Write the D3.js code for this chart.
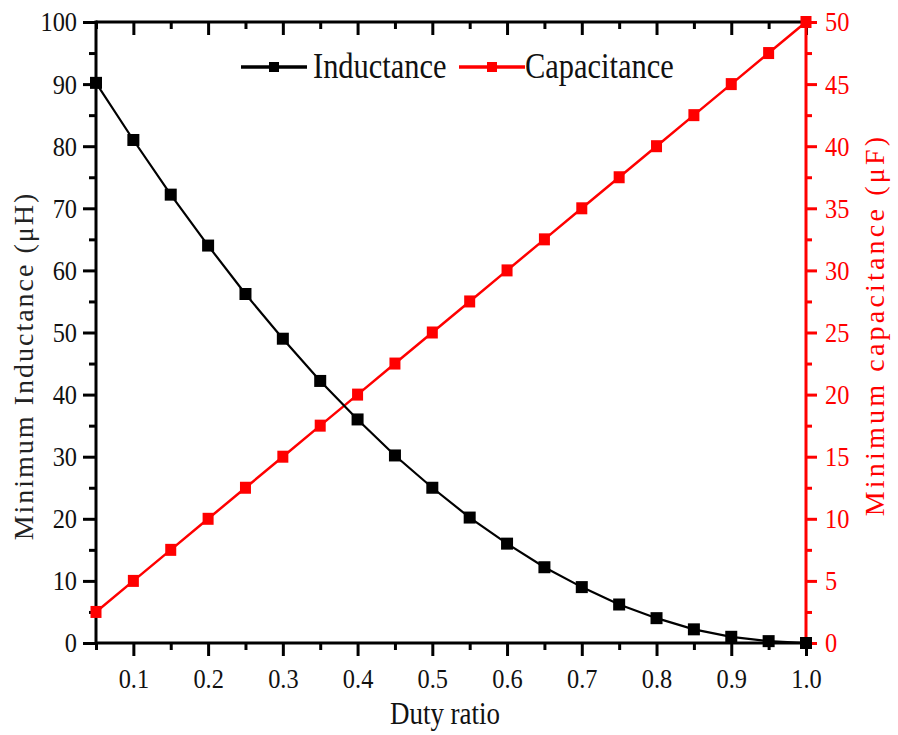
<!DOCTYPE html>
<html>
<head>
<meta charset="utf-8">
<script src="https://cdn.jsdelivr.net/npm/d3@7"></script>
<style>
  body { margin: 0; background: #fff; }
  svg text { font-family: "Liberation Serif", "Times New Roman", serif; }
</style>
</head>
<body>
<div class="chart"></div>
<script>
// data
var duty = [0.05, 0.1, 0.15, 0.2, 0.25, 0.3, 0.35, 0.4, 0.45, 0.5,
            0.55, 0.6, 0.65, 0.7, 0.75, 0.8, 0.85, 0.9, 0.95, 1.0];
var inductance = [90.2, 81, 72.2, 64, 56.2, 49, 42.2, 36, 30.2, 25,
                  20.2, 16, 12.2, 9, 6.2, 4, 2.2, 1, 0.3, 0];
var capacitance = [2.5, 5, 7.5, 10, 12.5, 15, 17.5, 20, 22.5, 25,
                   27.5, 30, 32.5, 35, 37.5, 40, 42.5, 45, 47.5, 50];
var xTicks = [0.1, 0.2, 0.3, 0.4, 0.5, 0.6, 0.7, 0.8, 0.9, 1.0];
var xMinor = [0.05, 0.15, 0.25, 0.35, 0.45, 0.55, 0.65, 0.75, 0.85, 0.95];
var yLeftTicks = [0, 10, 20, 30, 40, 50, 60, 70, 80, 90, 100];
var yLeftMinor = [5, 15, 25, 35, 45, 55, 65, 75, 85, 95];
var yRightTicks = [0, 5, 10, 15, 20, 25, 30, 35, 40, 45, 50];
var yRightMinor = [2.5, 7.5, 12.5, 17.5, 22.5, 27.5, 32.5, 37.5, 42.5, 47.5];
var seriesNames = ["Inductance", "Capacitance"];

var W = 898, H = 735;
var pLeft = 96, pRight = 806, pTop = 22, pBottom = 643;
var sx = 0.87; // text in the picture is a bit narrow
var RED = "#ff0000";

var svg = d3.select(".chart").append("svg")
            .attr("width", W).attr("height", H);

var x = d3.scaleLinear().domain([0.05, 1.0]).range([pLeft, pRight]);
var yL = d3.scaleLinear().domain([0, 100]).range([pBottom, pTop]);
var yR = d3.scaleLinear().domain([0, 50]).range([pBottom, pTop]);

function squish(g) {
  g.selectAll("text").each(function() {
    var t = d3.select(this);
    var x0 = +t.attr("x") || 0;
    t.attr("x", x0 / sx).attr("transform", "scale(" + sx + ",1)");
  });
}

function styleAxis(g, color, fontSize) {
  g.select(".domain").remove();
  g.selectAll("line").attr("stroke", color).attr("stroke-width", 3);
  g.selectAll("text").attr("fill", color === RED ? RED : "#111")
    .style("font-size", fontSize + "px");
  squish(g);
}

// bottom axis
svg.append("g").attr("transform", `translate(0,${pBottom})`)
  .call(d3.axisBottom(x).tickValues(xTicks).tickSize(13).tickPadding(12).tickFormat(d3.format(".1f")))
  .call(g => styleAxis(g, "#000", 28));
svg.append("g").attr("transform", `translate(0,${pBottom})`)
  .call(d3.axisBottom(x).tickValues(xMinor).tickSize(7).tickFormat(""))
  .call(g => styleAxis(g, "#000", 28));

// top axis (ticks inward)
svg.append("g").attr("transform", `translate(0,${pTop})`)
  .call(d3.axisBottom(x).tickValues(xTicks).tickSize(13).tickFormat(""))
  .call(g => styleAxis(g, "#000", 28));
svg.append("g").attr("transform", `translate(0,${pTop})`)
  .call(d3.axisBottom(x).tickValues(xMinor).tickSize(7).tickFormat(""))
  .call(g => styleAxis(g, "#000", 28));

// left axis
svg.append("g").attr("transform", `translate(${pLeft},0)`)
  .call(d3.axisLeft(yL).tickValues(yLeftTicks).tickSize(13).tickPadding(6))
  .call(g => styleAxis(g, "#000", 28));
svg.append("g").attr("transform", `translate(${pLeft},0)`)
  .call(d3.axisLeft(yL).tickValues(yLeftMinor).tickSize(7).tickFormat(""))
  .call(g => styleAxis(g, "#000", 28));

// right axis (red)
svg.append("g").attr("transform", `translate(${pRight},0)`)
  .call(d3.axisRight(yR).tickValues(yRightTicks).tickSize(11).tickPadding(8))
  .call(g => styleAxis(g, RED, 28));
svg.append("g").attr("transform", `translate(${pRight},0)`)
  .call(d3.axisRight(yR).tickValues(yRightMinor).tickSize(6).tickFormat(""))
  .call(g => styleAxis(g, RED, 28));

// frame lines
svg.append("line").attr("x1", pLeft).attr("x2", pRight).attr("y1", pTop).attr("y2", pTop)
  .attr("stroke", "#000").attr("stroke-width", 3);
svg.append("line").attr("x1", pLeft).attr("x2", pRight).attr("y1", pBottom).attr("y2", pBottom)
  .attr("stroke", "#000").attr("stroke-width", 3);
svg.append("line").attr("x1", pLeft).attr("x2", pLeft).attr("y1", pTop - 1.5).attr("y2", pBottom + 1.5)
  .attr("stroke", "#000").attr("stroke-width", 3);
svg.append("line").attr("x1", pRight).attr("x2", pRight).attr("y1", pTop - 1.5).attr("y2", pBottom + 1.5)
  .attr("stroke", RED).attr("stroke-width", 3);

// lines
var lineL = d3.line().x((d, i) => x(duty[i])).y(d => yL(d));
var lineR = d3.line().x((d, i) => x(duty[i])).y(d => yR(d));

svg.append("path").datum(capacitance)
  .attr("fill", "none").attr("stroke", RED).attr("stroke-width", 2.5)
  .attr("d", lineR);
svg.selectAll(".cap").data(capacitance).enter().append("rect")
  .attr("class", "cap")
  .attr("x", (d, i) => x(duty[i]) - 5.5).attr("y", d => yR(d) - 6)
  .attr("width", 11).attr("height", 12).attr("fill", RED);

svg.append("path").datum(inductance)
  .attr("fill", "none").attr("stroke", "#000").attr("stroke-width", 2.2)
  .attr("d", lineL);
svg.selectAll(".ind").data(inductance).enter().append("rect")
  .attr("class", "ind")
  .attr("x", (d, i) => x(duty[i]) - 6).attr("y", d => yL(d) - 6)
  .attr("width", 12).attr("height", 12).attr("fill", "#000");

// legend
var legendItems = [
  { name: seriesNames[0], color: "#000", x0: 241, x1: 307, tx: 313 },
  { name: seriesNames[1], color: RED, x0: 459, x1: 525, tx: 525 }
];
var lg = svg.selectAll(".legend").data(legendItems).enter().append("g").attr("class", "legend");
lg.append("line")
  .attr("x1", d => d.x0).attr("x2", d => d.x1).attr("y1", 67).attr("y2", 67)
  .attr("stroke", d => d.color).attr("stroke-width", 3.5);
lg.append("rect")
  .attr("x", d => (d.x0 + d.x1) / 2 - 5).attr("y", 62)
  .attr("width", 10).attr("height", 10).attr("fill", d => d.color);
lg.append("text")
  .attr("transform", d => `translate(${d.tx},78) scale(${sx},1)`)
  .style("font-size", "35px").attr("fill", "#111")
  .text(d => d.name);

// axis titles
svg.append("text")
  .attr("transform", `translate(33,366) rotate(-90)`)
  .attr("text-anchor", "middle")
  .style("font-size", "28px").style("letter-spacing", "2px")
  .attr("fill", "#222")
  .text("Minimum Inductance (\u03bcH)");

svg.append("text")
  .attr("transform", `translate(884,325) rotate(-90)`)
  .attr("text-anchor", "middle")
  .style("font-size", "28px").style("letter-spacing", "3.2px")
  .attr("fill", RED)
  .text("Minimum capacitance (\u03bcF)");

svg.append("text")
  .attr("transform", `translate(445,724) scale(${sx},1)`)
  .attr("text-anchor", "middle")
  .style("font-size", "31px").attr("fill", "#111")
  .text("Duty ratio");
</script>
</body>
</html>
